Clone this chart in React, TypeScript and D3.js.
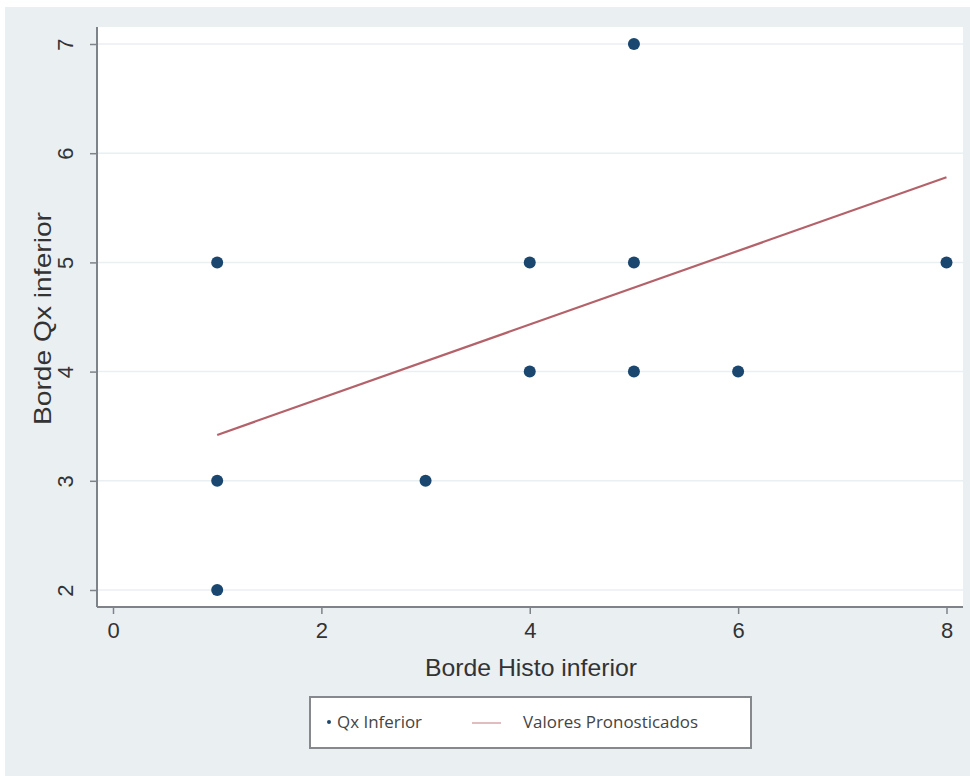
import { useRef, useEffect } from 'react';
import * as d3 from 'd3';

// observed points (Borde Histo inferior, Borde Qx inferior)
const histo = [1, 1, 1, 3, 4, 4, 5, 5, 5, 6, 8];
const qx = [5, 3, 2, 3, 5, 4, 7, 5, 4, 4, 5];

// fitted line ends (Valores Pronosticados)
const fitX = [1, 8];
const fitY = [3.42, 5.78];

const xTicks = [0, 2, 4, 6, 8];
const yTicks = [2, 3, 4, 5, 6, 7];

export default function App() {
  const svgRef = useRef<SVGSVGElement>(null);

  useEffect(() => {
    const width = 970;
    const height = 776;
    const plot = { left: 97, right: 963, top: 27, bottom: 607 };
    const font = 'Liberation Sans, Arial, sans-serif';

    const svg = d3.select(svgRef.current).attr('width', width).attr('height', height);
    svg.selectAll('*').remove();

    const xScale = d3.scaleLinear().domain([0, 8]).range([113, 946.5]);
    const yScale = d3.scaleLinear().domain([2, 7]).range([590, 44]);

    // outer background
    svg.append('rect').attr('width', width).attr('height', height).attr('fill', '#ffffff');
    svg.append('rect')
      .attr('x', 5).attr('y', 7)
      .attr('width', width - 5).attr('height', height - 7)
      .attr('fill', '#eaeff2');

    // plot region
    svg.append('rect')
      .attr('x', plot.left).attr('y', plot.top)
      .attr('width', plot.right - plot.left).attr('height', plot.bottom - plot.top)
      .attr('fill', '#ffffff');

    // grid lines
    svg.append('g')
      .selectAll('line')
      .data(yTicks)
      .enter()
      .append('line')
      .attr('x1', plot.left).attr('x2', plot.right)
      .attr('y1', d => yScale(d)).attr('y2', d => yScale(d))
      .attr('stroke', '#eaeff2')
      .attr('stroke-width', 1.5);

    // fitted line
    const line = d3.line<number>()
      .x(d => xScale(d))
      .y((d, i) => yScale(fitY[i]));
    svg.append('path')
      .datum(fitX)
      .attr('d', line)
      .attr('fill', 'none')
      .attr('stroke', '#b4626a')
      .attr('stroke-width', 2.2);

    // points
    svg.append('g')
      .selectAll('circle')
      .data(histo)
      .enter()
      .append('circle')
      .attr('cx', d => xScale(d))
      .attr('cy', (d, i) => yScale(qx[i]))
      .attr('r', 6)
      .attr('fill', '#1a476f');

    // y axis
    const yAxis = svg.append('g')
      .attr('transform', `translate(${plot.left}, 0)`)
      .call(d3.axisLeft(yScale).tickValues(yTicks).tickSize(7).tickPadding(0).tickFormat(d3.format('d')));
    yAxis.select('.domain').attr('d', `M0,${plot.top}V${plot.bottom}`).attr('stroke', '#7d8388').attr('stroke-width', 2);
    yAxis.selectAll('.tick line').attr('stroke', '#7d8388').attr('stroke-width', 1.5);
    yAxis.selectAll('.tick text')
      .attr('x', 0).attr('dy', 0)
      .attr('transform', 'translate(-30,0) rotate(-90)')
      .attr('text-anchor', 'middle')
      .attr('dominant-baseline', 'middle')
      .attr('font-family', font)
      .attr('font-size', 22)
      .attr('fill', '#333');

    // x axis
    const xAxis = svg.append('g')
      .attr('transform', `translate(0, ${plot.bottom})`)
      .call(d3.axisBottom(xScale).tickValues(xTicks).tickSize(7).tickPadding(8).tickFormat(d3.format('d')));
    xAxis.select('.domain').attr('d', `M${plot.left},0H${plot.right}`).attr('stroke', '#7d8388').attr('stroke-width', 2);
    xAxis.selectAll('.tick line').attr('stroke', '#7d8388').attr('stroke-width', 1.5);
    xAxis.selectAll('.tick text')
      .attr('font-family', font)
      .attr('font-size', 22)
      .attr('fill', '#333');

    // axis titles
    svg.append('text')
      .attr('x', 425)
      .attr('y', 676)
      .attr('textLength', 212)
      .attr('lengthAdjust', 'spacingAndGlyphs')
      .attr('font-family', font)
      .attr('font-size', 24)
      .attr('fill', '#333')
      .text('Borde Histo inferior');

    svg.append('text')
      .attr('transform', `translate(51, 425) rotate(-90)`)
      .attr('textLength', 213)
      .attr('lengthAdjust', 'spacingAndGlyphs')
      .attr('font-family', font)
      .attr('font-size', 24)
      .attr('fill', '#333')
      .text('Borde Qx inferior');

    // legend
    const legend = svg.append('g');
    legend.append('rect')
      .attr('x', 310).attr('y', 697)
      .attr('width', 441).attr('height', 51)
      .attr('fill', '#ffffff')
      .attr('stroke', '#85898d')
      .attr('stroke-width', 2);
    legend.append('circle')
      .attr('cx', 329).attr('cy', 722).attr('r', 2)
      .attr('fill', '#1a476f');
    legend.append('text')
      .attr('x', 337).attr('y', 728)
      .attr('textLength', 85)
      .attr('lengthAdjust', 'spacingAndGlyphs')
      .attr('font-family', 'Open Sans, sans-serif')
      .attr('font-size', 16)
      .attr('fill', '#444')
      .text('Qx Inferior');
    legend.append('line')
      .attr('x1', 472).attr('x2', 501)
      .attr('y1', 723).attr('y2', 723)
      .attr('stroke', '#d9a7ab')
      .attr('stroke-width', 1.5);
    legend.append('text')
      .attr('x', 523).attr('y', 728)
      .attr('textLength', 175)
      .attr('lengthAdjust', 'spacingAndGlyphs')
      .attr('font-family', 'Open Sans, sans-serif')
      .attr('font-size', 16)
      .attr('fill', '#444')
      .text('Valores Pronosticados');
  }, []);

  return <svg ref={svgRef} style={{ position: 'absolute', left: 0, top: 0 }} />;
}
